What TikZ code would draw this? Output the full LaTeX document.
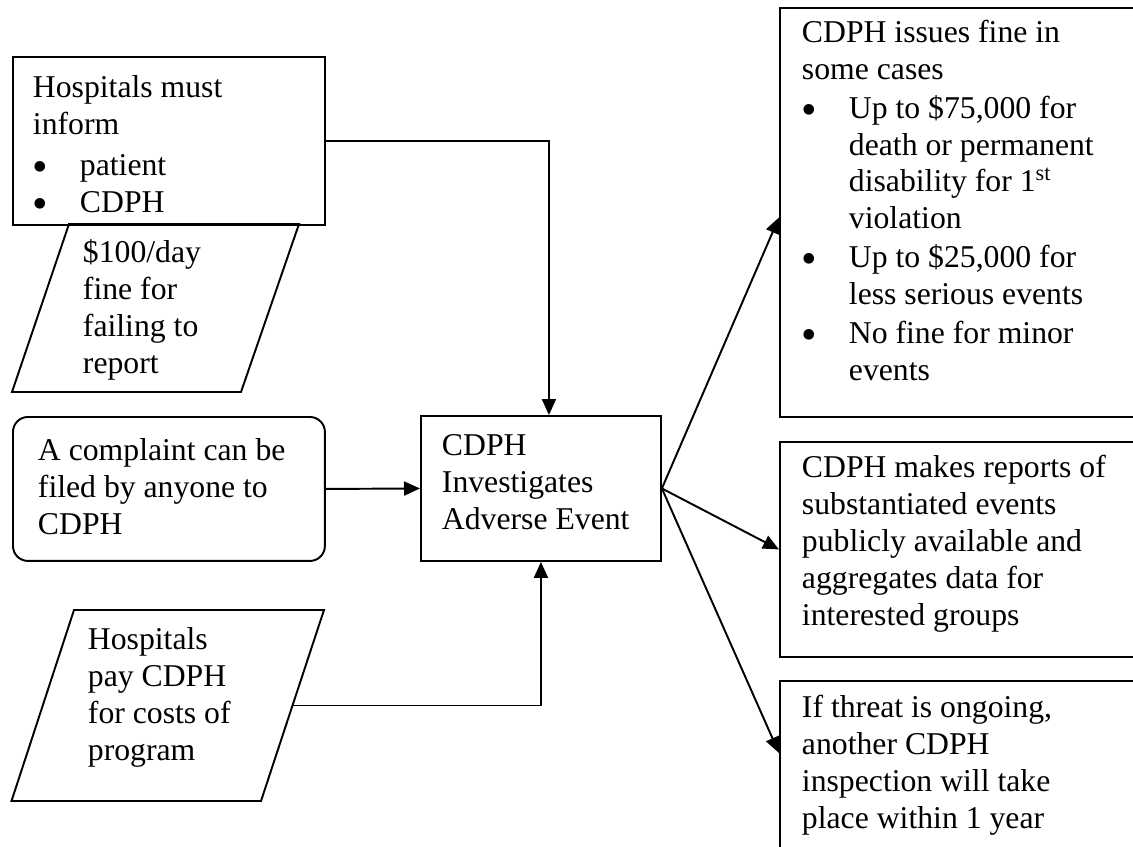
\documentclass[tikz,border=0pt]{standalone}
\usepackage{fontspec}
\usepackage{graphicx}
\setmainfont{Liberation Serif}
\usetikzlibrary{arrows.meta,calc}
\newcommand{\bul}{\makebox[0.94cm][l]{\raisebox{-0.2em}{\scalebox{1.4}{\textbullet}}}}

\begin{document}
\begin{tikzpicture}[x=0.02cm,y=-0.02cm,line width=1.1pt,
    box/.style={draw,rectangle,anchor=north west,inner sep=0pt},
    txt/.style={anchor=base west,inner sep=0pt,align=left,
      font=\fontsize{18.05pt}{20.95pt}\selectfont},
    arrow/.style={-{Triangle[length=0.32cm,width=0.28cm]}}]
  \useasboundingbox (0,0) rectangle (1133,846);
  \clip (0,0) rectangle (1133,846);
  % boxes
  \node[box,minimum width=6.24cm,minimum height=3.36cm] (inform) at (12,56) {};
  \node[box,minimum width=6.24cm,minimum height=2.88cm,rounded corners=0.3cm] (complaint) at (12,416) {};
  \node[box,minimum width=4.8cm,minimum height=2.9cm] (event) at (420,415) {};
  \node[box,minimum width=8cm,minimum height=8.18cm] (fines) at (779,7) {};
  \node[box,minimum width=8cm,minimum height=4.3cm] (reports) at (779,441) {};
  \node[box,minimum width=8cm,minimum height=4cm] (threat) at (779,680) {};
  % parallelograms
  \coordinate (fineNE) at (299,224);
  \coordinate (fineSE) at (241,392);
  \draw (69,224) -- (fineNE) -- (fineSE) -- (12,392) -- cycle;
  \coordinate (payNE) at (324,610);
  \coordinate (paySE) at (261,801);
  \draw (74,610) -- (payNE) -- (paySE) -- (11.5,801) -- cycle;
  % texts (placed at the baseline of the last line)
  \node[txt] (informtext) at (32,212) {Hospitals must\\inform\\[0.08cm]\bul patient\\\bul CDPH};
  \node[txt] (finetext) at (82,373) {\$100/day\\fine for\\failing to\\report};
  \node[txt] (complainttext) at (37,534) {A complaint can be\\filed by anyone to\\CDPH};
  \node[txt] (paytext) at (87,760) {Hospitals\\pay CDPH\\for costs of\\program};
  \node[txt] (eventtext) at (441,529) {CDPH\\Investigates\\Adverse Event};
  \node[txt] (finestext) at (801,380) {CDPH issues fine in\\some cases\\[0.04cm]
    \bul Up to \$75,000 for\\\hspace{0.94cm}death or permanent\\\hspace{0.94cm}disability for 1\textsuperscript{st}\\\hspace{0.94cm}violation\\[0.04cm]
    \bul Up to \$25,000 for\\\hspace{0.94cm}less serious events\\[0.04cm]
    \bul No fine for minor\\\hspace{0.94cm}events};
  \node[txt] (reportstext) at (801,625) {CDPH makes reports of\\substantiated events\\publicly available and\\aggregates data for\\interested groups};
  \node[txt] (threattext) at (801,828) {If threat is ongoing,\\another CDPH\\inspection will take\\place within 1 year};
  % connectors
  \draw[arrow] (inform.east) -| ([xshift=0.16cm]event.north);
  \draw[arrow] (complaint.east) -- (event.west);
  \draw[arrow] ($(payNE)!0.5!(paySE)$) -| (event.south);
  \draw[arrow] (event.east) -- ([yshift=-0.1cm]fines.west);
  \draw[arrow] (event.east) -- (reports.west);
  \draw[arrow] (event.east) -- ([yshift=-1.46cm]threat.north west);
\end{tikzpicture}
\end{document}
